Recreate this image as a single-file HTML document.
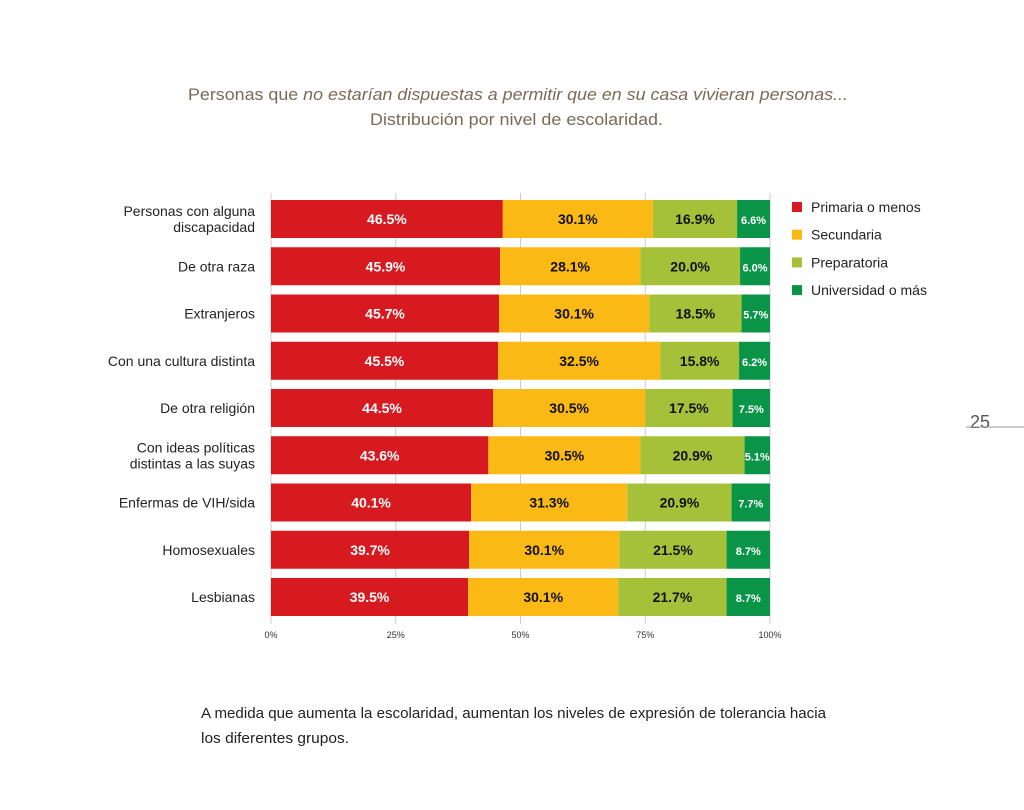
<!DOCTYPE html>
<html><head><meta charset="utf-8">
<style>
body{margin:0;background:#fff;width:1024px;height:810px;overflow:hidden;font-family:"Liberation Sans",sans-serif;}
</style></head>
<body>
<svg id="chart" width="1024" height="810" xmlns="http://www.w3.org/2000/svg" style="position:absolute;left:0;top:0">
<text x="188" y="100" font-size="17" fill="#7a6a55" textLength="660" lengthAdjust="spacingAndGlyphs">Personas que <tspan font-style="italic">no estarían dispuestas a permitir que en su casa vivieran personas...</tspan></text>
<text x="370" y="125" font-size="17" fill="#7a6a55" textLength="293" lengthAdjust="spacingAndGlyphs">Distribución por nivel de escolaridad.</text>
<text x="980" y="428" text-anchor="middle" font-size="18" fill="#555">25</text>
<line x1="966" y1="427" x2="1024" y2="427" stroke="#999" stroke-width="1"/>
<g id="grid"></g><g id="bars"></g><g id="axis"></g><g id="legend"></g>
<text x="201" y="718" font-size="15" fill="#222" textLength="625" lengthAdjust="spacingAndGlyphs">A medida que aumenta la escolaridad, aumentan los niveles de expresión de tolerancia hacia</text>
<text x="201" y="743" font-size="15" fill="#222" textLength="148" lengthAdjust="spacingAndGlyphs">los diferentes grupos.</text>
</svg>
<script>
const categories=[["Personas con alguna","discapacidad"],["De otra raza"],["Extranjeros"],["Con una cultura distinta"],["De otra religión"],["Con ideas políticas","distintas a las suyas"],["Enfermas de VIH/sida"],["Homosexuales"],["Lesbianas"]];
const primaria=[46.5,45.9,45.7,45.5,44.5,43.6,40.1,39.7,39.5];
const secundaria=[30.1,28.1,30.1,32.5,30.5,30.5,31.3,30.1,30.1];
const preparatoria=[16.9,20.0,18.5,15.8,17.5,20.9,20.9,21.5,21.7];
const universidad=[6.6,6.0,5.7,6.2,7.5,5.1,7.7,8.7,8.7];
const ticks=[0,25,50,75,100];
const seriesNames=["Primaria o menos","Secundaria","Preparatoria","Universidad o más"];
const colors=["#d71920","#fbb916","#a5c13a","#0a9447"];
const textColors=["#fff","#111","#111","#fff"];
const NS="http://www.w3.org/2000/svg";
const x0=271,x1=770,yTop=200,step=47.25,bh=38;
const xs=v=>x0+(x1-x0)*v/100;
const yc=i=>yTop+i*step+bh/2;
function mk(t,a,p){const e=document.createElementNS(NS,t);for(const k in a)e.setAttribute(k,a[k]);p.appendChild(e);return e;}
const grid=document.getElementById('grid'),bars=document.getElementById('bars'),axis=document.getElementById('axis'),legend=document.getElementById('legend');
ticks.forEach(t=>{
 const l=mk('line',{x1:xs(t),x2:xs(t),y1:193,y2:624,stroke:'#ccc','stroke-width':1},grid);
 
 
 const tx=mk('text',{x:xs(t),y:638,'text-anchor':'middle','font-size':9,fill:'#333'},axis);
 tx.textContent=t+'%';
 
 
});
const series=[primaria,secundaria,preparatoria,universidad];
categories.forEach((c,i)=>{
 const total=series.reduce((s,a)=>s+a[i],0);
 let cum=0;
 series.forEach((arr,s)=>{
  const v=arr[i];
  const a=xs(cum/total*100),b=xs((cum+v)/total*100);
  const r=mk('rect',{x:a,y:yc(i)-bh/2,width:b-a,height:bh,fill:colors[s]},bars);
  
  
  const small=v<10;
  const t=mk('text',{x:(a+b)/2,y:yc(i)+5,'text-anchor':'middle','font-size':small?11:14,'font-weight':'bold',fill:textColors[s]},bars);
  t.textContent=v.toFixed(1)+'%';
  
  
  cum+=v;
 });
 c.forEach((line,k)=>{
  const t=mk('text',{x:255,y:yc(i)+5+(c.length>1?(k?8:-8):0),'text-anchor':'end','font-size':14,fill:'#222'},axis);
  t.textContent=line;
  
  
 });
});
seriesNames.forEach((n,s)=>{
 const y=207+s*27.7;
 const r=mk('rect',{x:792,y:y-5,width:10,height:10,fill:colors[s]},legend);
 
 
 const t=mk('text',{x:811,y:y+5,'font-size':14,fill:'#222'},legend);
 t.textContent=n;
 
 
});
</script>
</body></html>
